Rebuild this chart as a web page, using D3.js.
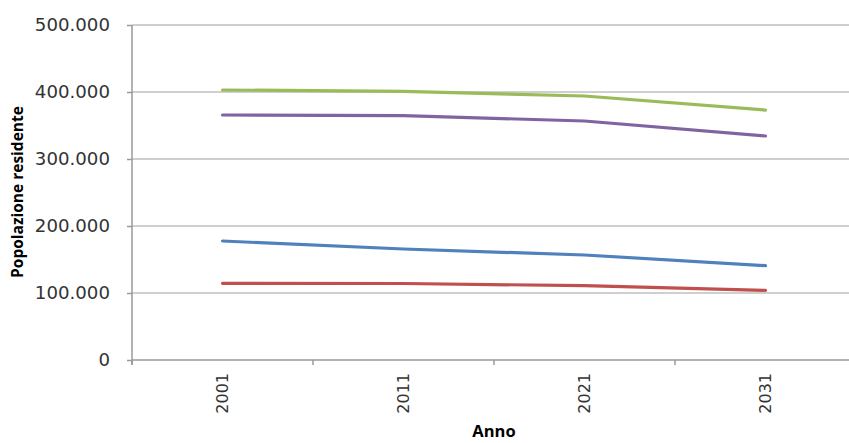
<!DOCTYPE html>
<html><head><meta charset="utf-8">
<script src="https://cdn.jsdelivr.net/npm/d3@7"></script>
<style>body{margin:0;background:#fff}svg{display:block}</style>
</head><body>
<svg id="c" width="849" height="443"></svg>
<script>
const years = ["2001","2011","2021","2031"];
const serieBlu = [177600, 165700, 156700, 140800];
const serieRossa = [114400, 114200, 110900, 104000];
const serieVerde = [403000, 401000, 394000, 373000];
const serieViola = [365700, 364600, 356700, 334300];
const yTicks = [0, 100000, 200000, 300000, 400000, 500000];
const yTickLabels = ["0","100.000","200.000","300.000","400.000","500.000"];
const colors = ["#4F81BD","#C0504D","#9BBB59","#8064A2"];
const series = [serieBlu, serieRossa, serieVerde, serieViola];

(function(){
const svg = d3.select("#c");
const pLeft = 132, pRight = 856, pTop = 25, pBottom = 360;
const x = d3.scaleBand().domain(years).range([pLeft, pRight]);
const y = d3.scaleLinear().domain([0, 500000]).range([pBottom, pTop]);

// gridlines
svg.append("g").selectAll("line").data(yTicks.slice(1)).join("line")
  .attr("x1", pLeft).attr("x2", pRight)
  .attr("y1", d => y(d)).attr("y2", d => y(d))
  .attr("stroke", "#bfbfbf").attr("stroke-width", 1.5);

// y axis
const yAxis = svg.append("g").attr("transform", `translate(${pLeft},0)`)
  .call(d3.axisLeft(y).tickValues(yTicks).tickSize(5).tickPadding(0).tickFormat((d,i) => yTickLabels[i]));
yAxis.select(".domain").attr("stroke", "#9a9a9a").attr("stroke-width", 1.5).attr("d", `M0,${pTop}V${pBottom+5}`);
yAxis.selectAll(".tick line").attr("stroke", "#9a9a9a").attr("stroke-width", 1.5);
yAxis.selectAll(".tick text")
  .attr("font-family", "DejaVu Sans, Verdana, sans-serif").attr("font-size", 17)
  .attr("fill", "#333").attr("x", 0).attr("dy", "0.35em")
  .attr("transform", "translate(-22,0) scale(1.07,1)").attr("text-anchor", "end");

// x axis
const xAxis = svg.append("g").attr("transform", `translate(0,${pBottom})`)
  .call(d3.axisBottom(x).tickSize(0).tickFormat(d => d));
xAxis.select(".domain").attr("stroke", "#9a9a9a").attr("stroke-width", 1.5).attr("d", `M${pLeft},0H${pRight}`);
xAxis.selectAll(".tick text")
  .attr("font-family", "DejaVu Sans, Verdana, sans-serif").attr("font-size", 16)
  .attr("fill", "#333")
  .attr("transform", "rotate(-90)").attr("text-anchor", "end")
  .attr("x", -13).attr("y", 0).attr("dy", "0.35em");
const bounds = years.map(d => x(d)).concat([pRight]);
xAxis.append("g").selectAll("line").data(bounds).join("line")
  .attr("x1", d => d).attr("x2", d => d).attr("y1", 0).attr("y2", 5)
  .attr("stroke", "#9a9a9a").attr("stroke-width", 1.5);

// lines
const line = d3.line().x((d,i) => x(years[i]) + x.bandwidth()/2).y(d => y(d));
svg.append("g").selectAll("path").data(series).join("path")
  .attr("d", d => line(d)).attr("fill", "none")
  .attr("stroke", (d,i) => colors[i]).attr("stroke-width", 3.2)
  .attr("stroke-linecap", "round").attr("stroke-linejoin", "round");

// axis titles
svg.append("text").attr("transform", "translate(23,192) rotate(-90)")
  .attr("text-anchor", "middle").attr("font-family", "Open Sans, DejaVu Sans, sans-serif")
  .attr("font-weight", "bold").attr("font-size", 15.5).attr("fill", "#000")
  .text("Popolazione residente");
svg.append("text").attr("x", (pLeft + pRight)/2).attr("y", 437)
  .attr("text-anchor", "middle").attr("font-family", "Open Sans, DejaVu Sans, sans-serif")
  .attr("font-weight", "bold").attr("font-size", 16.5).attr("fill", "#000")
  .text("Anno");
})();
</script>
</body></html>
